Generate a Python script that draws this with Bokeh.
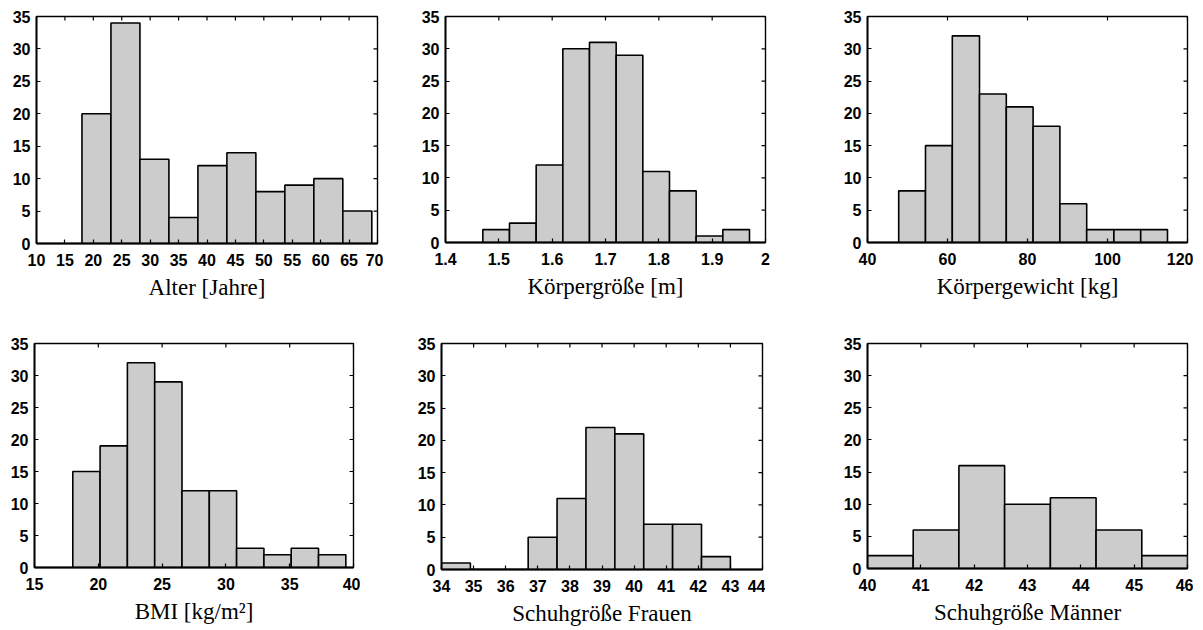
import math
from bokeh.plotting import figure
from bokeh.models import Range1d, FixedTicker
from bokeh.layouts import column, row
from bokeh.embed import file_html
from bokeh.resources import INLINE

# ---------------- data ----------------
y_ticks = [0, 5, 10, 15, 20, 25, 30, 35]

alter_edges = [18, 23.1, 28.2, 33.3, 38.4, 43.5, 48.6, 53.7, 58.8, 63.9, 69]
alter_counts = [20, 34, 13, 4, 12, 14, 8, 9, 10, 5]
alter_ticks = [10, 15, 20, 25, 30, 35, 40, 45, 50, 55, 60, 65, 70]
alter_labels = ["10", "15", "20", "25", "30", "35", "40", "45", "50", "55", "60", "65", "70"]

groesse_edges = [1.47, 1.52, 1.57, 1.62, 1.67, 1.72, 1.77, 1.82, 1.87, 1.92, 1.97]
groesse_counts = [2, 3, 12, 30, 31, 29, 11, 8, 1, 2]
groesse_ticks = [1.4, 1.5, 1.6, 1.7, 1.8, 1.9, 2.0]
groesse_labels = ["1.4", "1.5", "1.6", "1.7", "1.8", "1.9", "2"]

gewicht_edges = [47.8, 54.5, 61.2, 68.0, 74.7, 81.4, 88.1, 94.8, 101.6, 108.3, 115.0]
gewicht_counts = [8, 15, 32, 23, 21, 18, 6, 2, 2, 2]
gewicht_ticks = [40, 60, 80, 100, 120]
gewicht_labels = ["40", "60", "80", "100", "120"]

bmi_edges = [18, 20.14, 22.28, 24.42, 26.56, 28.7, 30.84, 32.98, 35.12, 37.26, 39.4]
bmi_counts = [15, 19, 32, 29, 12, 12, 3, 2, 3, 2]
bmi_ticks = [15, 20, 25, 30, 35, 40]
bmi_labels = ["15", "20", "25", "30", "35", "40"]

frauen_edges = [34, 34.9, 35.8, 36.7, 37.6, 38.5, 39.4, 40.3, 41.2, 42.1, 43.0]
frauen_counts = [1, 0, 0, 5, 11, 22, 21, 7, 7, 2]
frauen_ticks = [34, 35, 36, 37, 38, 39, 40, 41, 42, 43, 44]
frauen_labels = ["34", "35", "36", "37", "38", "39", "40", "41", "42", "43", "44"]

maenner_edges = [40, 40.857, 41.714, 42.571, 43.429, 44.286, 45.143, 46]
maenner_counts = [2, 6, 16, 10, 11, 6, 2]
maenner_ticks = [40, 41, 42, 43, 44, 45, 46]
maenner_labels = ["40", "41", "42", "43", "44", "45", "46"]

# ---------------- style ----------------
TICK_FONT = "Liberation Sans"
LABEL_FONT = "Liberation Serif"


def panel(edges, counts, xticks, xlabels, xlabel, fw, fh, bl, br, bt, bb):
    xr = (xticks[0], xticks[-1])
    yr = (y_ticks[0], y_ticks[-1])
    p = figure(output_backend="svg", toolbar_location=None,
               frame_width=fw, frame_height=fh,
               min_border_left=bl, min_border_right=br,
               min_border_top=bt, min_border_bottom=bb,
               x_range=Range1d(*xr), y_range=Range1d(*yr))
    p.background_fill_color = "white"
    p.border_fill_color = "white"
    p.outline_line_color = "black"
    p.outline_line_width = 1.4
    p.outline_line_alpha = 1.0
    p.xgrid.visible = False
    p.ygrid.visible = False

    p.quad(left=edges[:-1], right=edges[1:], top=counts, bottom=0,
           fill_color="#cccccc", line_color="black", line_width=1.6)

    # inward ticks on the top and right frame edges
    p.scatter(x=xticks, y=[yr[1]] * len(xticks), marker="dash", size=8,
              angle=math.pi / 2, line_color="black", line_width=1.2)
    p.scatter(x=[xr[1]] * len(y_ticks), y=y_ticks, marker="dash", size=8,
              angle=0, line_color="black", line_width=1.2)

    for ax in (p.xaxis[0], p.yaxis[0]):
        ax.major_tick_in = 4
        ax.major_tick_out = 0
        ax.minor_tick_line_color = None
        ax.axis_line_color = "black"
        ax.axis_line_width = 1.8
        ax.major_tick_line_color = "black"
        ax.major_tick_line_width = 1.2
        ax.major_label_text_font = TICK_FONT
        ax.major_label_text_font_style = "bold"
        ax.major_label_text_font_size = "16px"
        ax.major_label_text_color = "black"

    p.xaxis.ticker = FixedTicker(ticks=xticks)
    p.xaxis.major_label_overrides = {t: l for t, l in zip(xticks, xlabels)}
    p.xaxis.major_label_standoff = 10
    p.xaxis.axis_label = xlabel
    p.xaxis.axis_label_text_font = LABEL_FONT
    p.xaxis.axis_label_text_font_style = "normal"
    p.xaxis.axis_label_text_font_size = "23px"
    p.xaxis.axis_label_text_color = "black"
    p.xaxis.axis_label_standoff = 6

    p.yaxis.ticker = FixedTicker(ticks=y_ticks)
    p.yaxis.major_label_standoff = 6
    return p


p1 = panel(alter_edges, alter_counts, alter_ticks, alter_labels,
           "Alter [Jahre]", 341, 227, 36, 6, 16, 77)
p2 = panel(groesse_edges, groesse_counts, groesse_ticks, groesse_labels,
           "Körpergröße [m]", 320, 226, 62, 72, 14, 80)
p3 = panel(gewicht_edges, gewicht_counts, gewicht_ticks, gewicht_labels,
           "Körpergewicht [kg]", 320, 226, 30, 6, 14, 80)

p4 = panel(bmi_edges, bmi_counts, bmi_ticks, bmi_labels,
           "BMI [kg/m²]", 319, 224, 34, 7, 23, 63)
p5 = panel(frauen_edges, frauen_counts, frauen_ticks, frauen_labels,
           "Schuhgröße Frauen", 321, 226, 81, 3, 20, 64)
p6 = panel(maenner_edges, maenner_counts, maenner_ticks, maenner_labels,
           "Schuhgröße Männer", 320, 225, 102, 6, 22, 63)

layout = column(row(p1, p2, p3), row(p4, p5, p6))

open("out.html", "w").write(file_html(layout, INLINE))
